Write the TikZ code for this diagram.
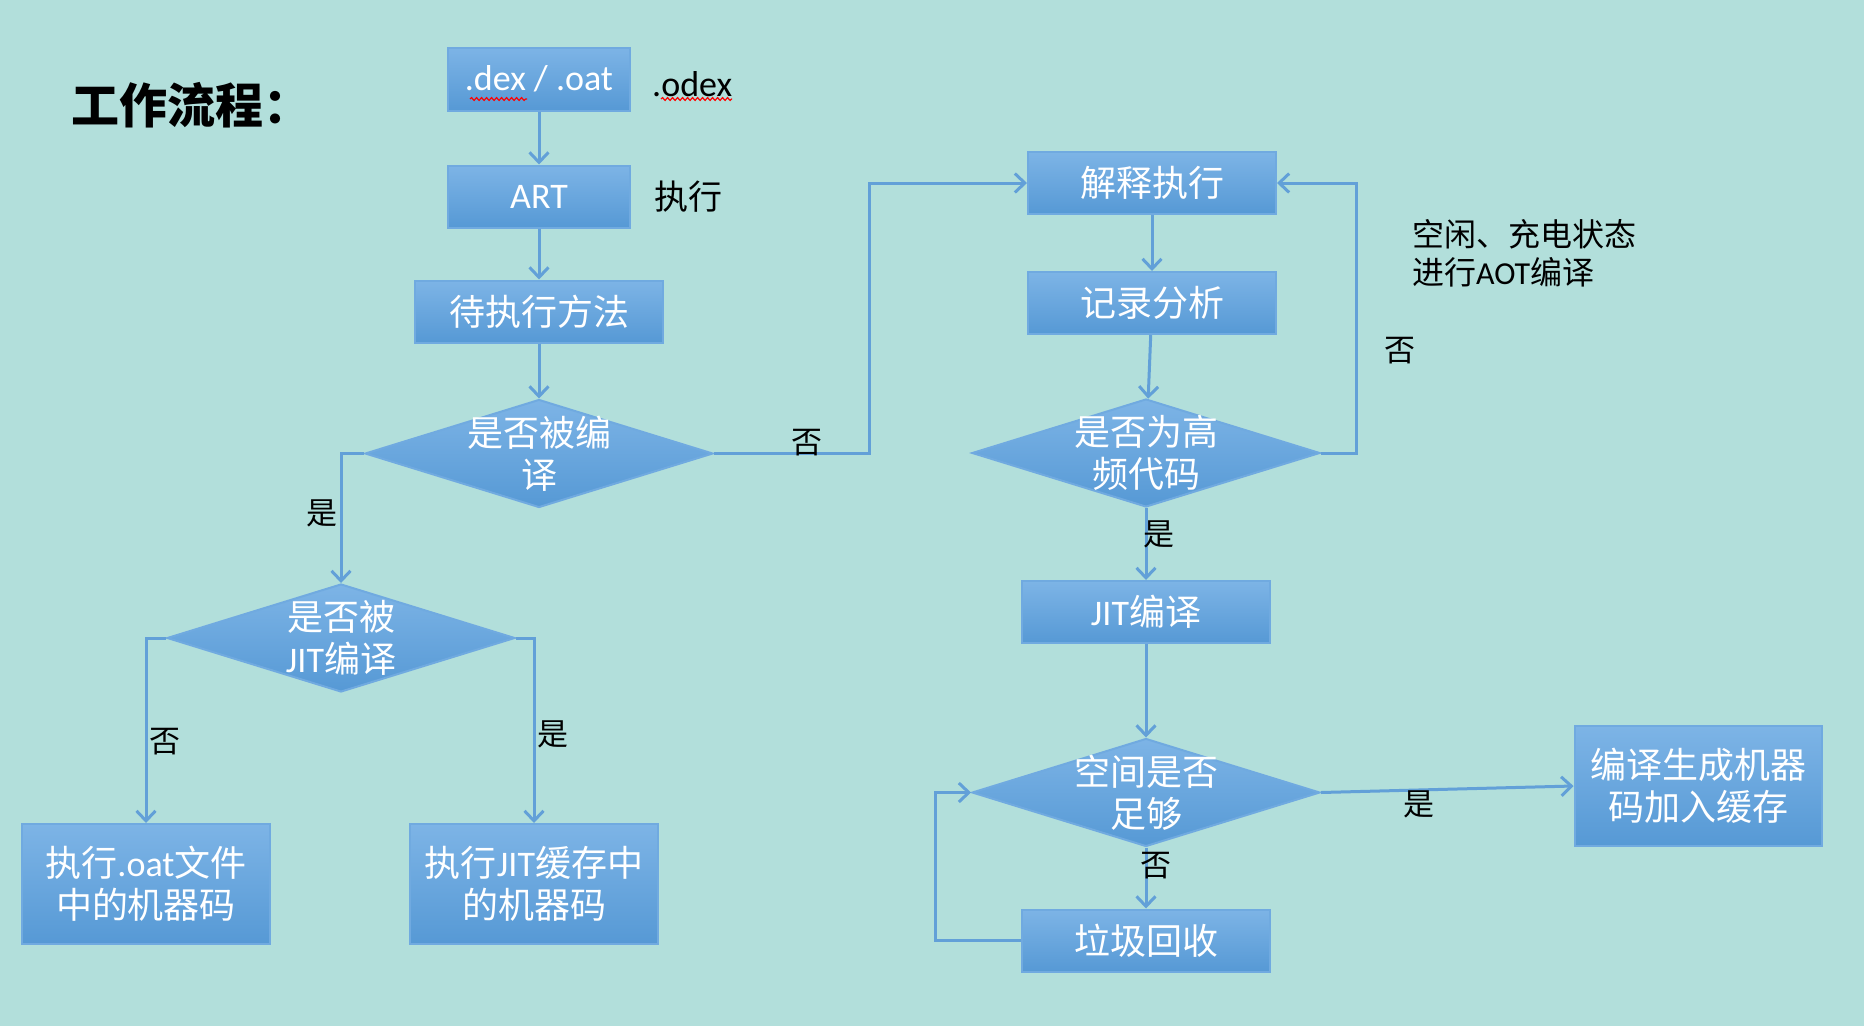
\documentclass[tikz,border=0pt]{standalone}
\usepackage{fontspec}
\setmainfont{Noto Sans CJK SC}
\newfontfamily\lat{Carlito}
\usetikzlibrary{arrows.meta,positioning,shapes.geometric,decorations.pathmorphing}
\definecolor{bg}{RGB}{178,223,219}
\definecolor{boxtop}{RGB}{125,180,230}
\definecolor{boxbot}{RGB}{86,153,213}
\definecolor{boxline}{RGB}{112,170,224}
\definecolor{flowc}{RGB}{98,160,216}

\begin{document}
\begin{tikzpicture}[x=1pt,y=-1pt,>={Straight Barb[length=10pt,width=19pt]},
box/.style={draw=boxline,line width=2pt,top color=boxtop,bottom color=boxbot,text=white,align=center,inner sep=0pt,minimum width=248pt,minimum height=62pt,font=\fontsize{36}{42}\selectfont},
tall/.style={box,minimum height=120pt},
decision/.style={diamond,draw=boxline,line width=2pt,top color=boxtop,bottom color=boxbot,inner sep=0pt,minimum width=348pt,minimum height=108pt},
dtext/.style={text=white,align=center,inner sep=0pt,font=\fontsize{36}{42}\selectfont},
conn/.style={->,draw=flowc,line width=3pt},
tag/.style={inner sep=0pt,text=black,font=\fontsize{31}{36}\selectfont},
note/.style={inner sep=0pt,align=left,font=\fontsize{32}{38}\selectfont},
typo/.style={draw=red,line width=1.2pt,decorate,decoration={snake,amplitude=1.4pt,segment length=5pt}}]
\path[use as bounding box,fill=bg] (0,0) rectangle (1864,1026);
\node[anchor=west,inner sep=0pt,font=\fontsize{48}{52}\selectfont\bfseries] (title) at (71,105) {工作流程：};
\node[box,minimum width=182pt,minimum height=63pt] (dex) at (539,79) {\lat .dex / .oat};
\node[note,right=21pt of dex,yshift=-5pt,font=\fontsize{36}{40}\selectfont\lat] (odex) {.odex};
\node[box,below=53pt of dex,minimum width=182pt] (art) {\lat ART};
\node[note,right=23pt of art,font=\fontsize{34}{40}\selectfont] (run) {执行};
\node[box,below=51pt of art] (method) {待执行方法};
\node[decision,below=55pt of method,label={[dtext]center:是否被编\\译}] (compiled) {};
\node[decision,label={[dtext]center:是否被\\{\lat JIT}编译}] (jitted) at (341,638) {};
\node[tall] (oatcode) at (146,884) {执行{\lat .oat}文件\\中的机器码};
\node[tall] (jitcode) at (534,884) {执行{\lat JIT}缓存中\\的机器码};
\node[box] (interp) at (1152,183) {解释执行};
\node[box,below=56pt of interp] (profile) {记录分析};
\node[decision,label={[dtext]center:是否为高\\频代码}] (hot) at (1146,453) {};
\node[box,below=72pt of hot] (jit) {{\lat JIT}编译};
\node[decision,below=93.5pt of jit,label={[dtext]center:空间是否\\足够}] (space) {};
\node[box,below=61pt of space] (gc) {垃圾回收};
\node[tall,minimum width=247pt] (cache) at (1698,786) {编译生成机器\\码加入缓存};
\node[note,anchor=west] (aot) at (1412,253) {空闲、充电状态\\进行{\lat AOT}编译};
\draw[typo] (470,99) -- (527,99);
\draw[typo] (661,99) -- (732,99);
\draw[conn] (dex) -- (art);
\draw[conn] (art) -- (method);
\draw[conn] (method) -- (compiled);
\draw[conn] (compiled.west) -| node[tag,pos=0.73,left=2pt]{是} (jitted.north);
\draw[conn] (jitted.west) -| node[tag,pos=0.78,right=2pt]{否} (oatcode.north);
\draw[conn] (jitted.east) -| node[tag,pos=0.76,right=2pt]{是} (jitcode.north);
\draw[conn] (compiled.east) -- node[tag,pos=0.6,yshift=11pt]{否} ++(155,0) |- (interp.west);
\draw[conn] (interp) -- (profile);
\draw[conn] (profile) -- (hot);
\draw[conn] (hot.east) -- ++(35,0) |- node[tag,pos=0.19,right=27pt]{否} (interp.east);
\draw[conn] (hot) -- node[tag,pos=0.36,xshift=13pt]{是} (jit);
\draw[conn] (jit) -- (space);
\draw[conn] (space.east) -- node[tag,pos=0.39,yshift=-14pt]{是} (cache.west);
\draw[conn] (space) -- node[tag,pos=0.3,xshift=10pt]{否} (gc);
\draw[conn] (gc.west) -- ++(-86,0) |- (space.west);
\end{tikzpicture}
\end{document}
